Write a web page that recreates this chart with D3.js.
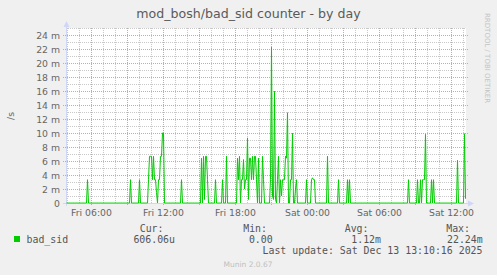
<!DOCTYPE html>
<html>
<head>
<meta charset="utf-8">
<script src="https://cdn.jsdelivr.net/npm/d3@7"></script>
<style>
  html, body { margin: 0; padding: 0; background: #F0F0F0; }
  svg { display: block; }
</style>
</head>
<body>
<svg id="chart" width="497" height="275"></svg>
<script>
// ---------- data ----------
const title = "mod_bosh/bad_sid counter - by day";
const yAxisTitle = "/s";
const seriesName = "bad_sid";
// x-axis tick labels and their times (hours since Fri 00:00)
const xTickLabels = ["Fri 06:00", "Fri 12:00", "Fri 18:00", "Sat 00:00", "Sat 06:00", "Sat 12:00"];
const xTickHours = [6, 12, 18, 24, 30, 36];
// y-axis tick values (milli-units /s) and labels
const yTickValues = [0, 2, 4, 6, 8, 10, 12, 14, 16, 18, 20, 22, 24];
const yTickLabels = ["0", "2 m", "4 m", "6 m", "8 m", "10 m", "12 m", "14 m", "16 m", "18 m", "20 m", "22 m", "24 m"];
// 400 five-minute samples; start time in hours since Fri 00:00
const sampleCount = 400;
const startHour = 6 - 25 / 12;
// non-zero samples: index of 5-minute sample and value (m/s); others are 0
const sampleIndex = [21, 64, 73, 82, 83, 84, 85, 86, 87, 88, 89, 90, 92, 93, 94, 95, 96, 97,
  115, 135, 137, 138, 139, 140, 141, 149, 156, 160,
  171, 172, 173, 175, 176, 177, 178, 179, 180, 181, 182, 183, 184, 185, 186, 187, 188, 189, 190, 192, 196, 197,
  204, 205, 206, 207, 208, 209, 211, 212, 214, 215, 216, 217, 218, 219, 220, 221, 224, 225, 226, 229, 230,
  240, 245, 246, 247, 248, 261, 272, 281, 283,
  342, 351, 354, 356, 357, 358, 359, 365, 367, 391, 398, 399];
const sampleValue = [3.33, 3.33, 3.33, 3.33, 6.67, 6.67, 6.67, 3.33, 6.67, 3.33, 3.33, 1.5, 3.33, 3.33, 6.67, 6.67, 10, 10,
  3.33, 6.4, 6.67, 0.5, 6.67, 6.67, 3.33, 3.33, 3.33, 6.67,
  6.4, 3.33, 6.67, 3.33, 3.33, 6.2, 2, 3.33, 3.33, 9.3, 0.5, 6.4, 6.4, 3.33, 6.67, 3.33, 6.67, 6.67, 3.33, 6.4, 6.67, 3.33,
  3.33, 22.24, 1, 0.5, 16, 0.5, 3.33, 6.67, 3.33, 1, 3.33, 3.33, 3.33, 6.67, 6.4, 12.9, 3.33, 3.33, 10, 2, 3.33,
  3.33, 3.33, 3.6, 3.33, 3.33, 6.67, 3.33, 3.33, 3.33,
  3.33, 3.33, 3.33, 3.33, 3.33, 3.33, 9.8, 3.33, 3.33, 6.1, 9.9, 0.606];
const legendHeaders = ["Cur:", "Min:", "Avg:", "Max:"];
const legendValues = ["606.06u", "0.00", "1.12m", "22.24m"];
const lastUpdate = "Last update: Sat Dec 13 13:10:16 2025";
const footer = "Munin 2.0.67";
const sideText = "RRDTOOL / TOBI OETIKER";

// ---------- build series ----------
const values = new Array(sampleCount).fill(0);
sampleIndex.forEach((idx, k) => { values[idx] = sampleValue[k]; });
const series = values.map((v, i) => ({ h: startHour + i / 12, v }));

// ---------- layout ----------
const svg = d3.select("#chart");
const L = 66, R = 466, T = 28, B = 203;
const x = d3.scaleLinear().domain([startHour, startHour + sampleCount / 12]).range([L + 0.5, R + 0.5]);
const y = d3.scaleLinear().domain([0, 25]).range([B, T]);

const font = "'DejaVu Sans', sans-serif";
const mono = "'DejaVu Sans Mono', monospace";
const txt = "#666";

// canvas
svg.append("rect").attr("x", L).attr("y", T).attr("width", R - L).attr("height", B - T).attr("fill", "#fff");

// minor vertical grid (every hour)
const g = svg.append("g");
const minorH = d3.range(Math.ceil(startHour), startHour + sampleCount / 12, 1);
g.selectAll(".vmin").data(minorH.filter(h => h % 3 !== 0)).enter().append("line")
  .attr("x1", d => Math.floor(x(d)) + 0.5).attr("x2", d => Math.floor(x(d)) + 0.5)
  .attr("y1", T).attr("y2", B)
  .attr("stroke", "#c8c8c8").attr("stroke-dasharray", "1,1");
// minor horizontal grid (every 1 m)
g.selectAll(".hmin").data(d3.range(1, 26).filter(v => v % 2 !== 0)).enter().append("line")
  .attr("x1", L).attr("x2", R)
  .attr("y1", d => y(d) + 0.5).attr("y2", d => y(d) + 0.5)
  .attr("stroke", "#c8c8c8").attr("stroke-dasharray", "1,1");
// major vertical grid (every 3 h)
g.selectAll(".vmaj").data(minorH.filter(h => h % 3 === 0)).enter().append("line")
  .attr("x1", d => Math.floor(x(d)) + 0.5).attr("x2", d => Math.floor(x(d)) + 0.5)
  .attr("y1", T).attr("y2", B + 3)
  .attr("stroke", "#dca0a0").attr("stroke-dasharray", "1,1");
// major horizontal grid (every 2 m)
g.selectAll(".hmaj").data(yTickValues.filter(v => v > 0)).enter().append("line")
  .attr("x1", L - 3).attr("x2", R + 2)
  .attr("y1", d => y(d) + 0.5).attr("y2", d => y(d) + 0.5)
  .attr("stroke", "#dca0a0").attr("stroke-dasharray", "1,1");

// axes
const axisCol = "#CFD6F8";
svg.append("line").attr("x1", L + 0.5).attr("x2", L + 0.5).attr("y1", B + 3).attr("y2", T - 5).attr("stroke", axisCol);
svg.append("path").attr("d", `M${L - 2.5},${T - 1}L${L + 3.5},${T - 1}L${L + 0.5},${T - 7}Z`).attr("fill", axisCol);
svg.append("line").attr("x1", L - 3).attr("x2", R + 4).attr("y1", B + 0.5).attr("y2", B + 0.5).attr("stroke", axisCol);
svg.append("path").attr("d", `M${R + 2},${B - 2.5}L${R + 2},${B + 3.5}L${R + 8},${B + 0.5}Z`).attr("fill", axisCol);

// data line
const line = d3.line().x(d => x(d.h)).y(d => y(d.v));
svg.append("path").datum(series).attr("d", line)
  .attr("fill", "none").attr("stroke", "#00CC00").attr("stroke-width", 1);

// y tick labels
svg.selectAll(".ylab").data(yTickValues).enter().append("text")
  .attr("x", L - 6).attr("y", d => y(d) + 3.6)
  .attr("text-anchor", "end").attr("font-family", font).attr("font-size", "9.3px").attr("fill", txt)
  .text((d, i) => yTickLabels[i]);
// x tick labels
svg.selectAll(".xlab").data(xTickHours).enter().append("text")
  .attr("x", d => x(d)).attr("y", 216)
  .attr("text-anchor", "middle").attr("font-family", font).attr("font-size", "9.3px").attr("fill", txt)
  .text((d, i) => xTickLabels[i]);

// title
svg.append("text").attr("x", 248.5).attr("y", 18).attr("text-anchor", "middle")
  .attr("font-family", font).attr("font-size", "12.6px").attr("fill", "#5a5a5a").text(title);
// y axis title
svg.append("text").attr("transform", "translate(14,116) rotate(-90)").attr("text-anchor", "middle")
  .attr("font-family", font).attr("font-size", "9.3px").attr("fill", txt).text(yAxisTitle);
// side text
svg.append("text").attr("transform", "translate(485,13) rotate(90)").attr("text-anchor", "start")
  .attr("font-family", font).attr("font-size", "7px").attr("fill", "#c4c4c4").text(sideText);

// legend
const headX = [163.5, 267, 368.5, 470];
const valX = [175, 272.7, 381, 482.7];
svg.selectAll(".lh").data(legendHeaders).enter().append("text")
  .attr("x", (d, i) => headX[i]).attr("y", 231.5).attr("text-anchor", "end")
  .attr("font-family", mono).attr("font-size", "9.9px").attr("fill", "#555").text(d => d);
svg.append("rect").attr("x", 14).attr("y", 236).attr("width", 6).attr("height", 6).attr("fill", "#00CC00");
svg.append("text").attr("x", 26.5).attr("y", 242.5)
  .attr("font-family", mono).attr("font-size", "9.9px").attr("fill", "#555").text(seriesName);
svg.selectAll(".lv").data(legendValues).enter().append("text")
  .attr("x", (d, i) => valX[i]).attr("y", 242.5).attr("text-anchor", "end")
  .attr("font-family", mono).attr("font-size", "9.9px").attr("fill", "#555").text(d => d);
svg.append("text").attr("x", 482.5).attr("y", 254).attr("text-anchor", "end")
  .attr("font-family", mono).attr("font-size", "9.9px").attr("fill", "#555").text(lastUpdate);
svg.append("text").attr("x", 248).attr("y", 266.5).attr("text-anchor", "middle")
  .attr("font-family", font).attr("font-size", "7.5px").attr("fill", "#c0c0c0").text(footer);
</script>
</body>
</html>
